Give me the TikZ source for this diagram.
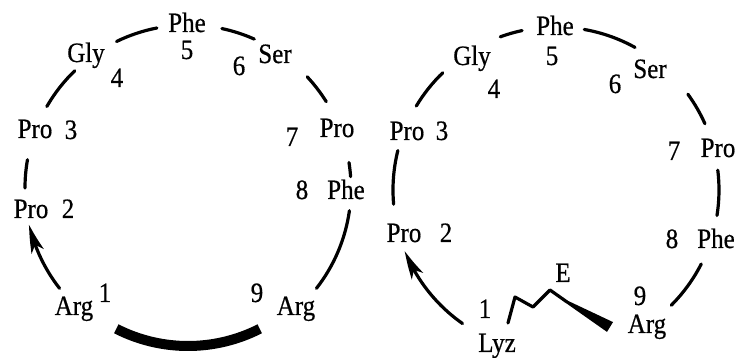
\documentclass[tikz,border=0pt]{standalone}
\usepackage{fontspec}
\setmainfont{Liberation Serif}
\newfontfamily\lblfont[UprightFeatures={FakeBold=0.6}]{Liberation Serif}
\usetikzlibrary{arrows.meta,calc,bending}
\newcommand{\tall}[1]{\scalebox{1}[1.12]{#1}}
\begin{document}
\begin{tikzpicture}[x=1pt,y=-1pt,
  lbl/.style={font=\lblfont\fontsize{25}{25}\selectfont,inner sep=0pt,anchor=base},
  seg/.style={line width=3.2pt,line cap=round},
  bond/.style={line width=10pt},
  tip/.style={-{Stealth[length=28pt,width=13pt,inset=7pt,bend]}}]
\useasboundingbox (0,0) rectangle (737,358);
\coordinate (L) at (188,188);
\coordinate (R) at (556,190);
% ---------- left ring labels
\node[lbl] (lphe5) at (187,32) {\tall{Phe}};
\node[lbl] (ln5) at (187,59) {\tall{5}};
\node[lbl] (lgly) at (86,62) {\tall{Gly}};
\node[lbl] (ln4) at (117,87) {\tall{4}};
\node[lbl] (lser) at (275,63) {\tall{Ser}};
\node[lbl] (ln6) at (239,75) {\tall{6}};
\node[lbl] (lpro3) at (35,138) {\tall{Pro}};
\node[lbl] (ln3) at (71,139) {\tall{3}};
\node[lbl] (lpro7) at (337,137) {\tall{Pro}};
\node[lbl] (ln7) at (292,146) {\tall{7}};
\node[lbl] (lpro2) at (31,218) {\tall{Pro}};
\node[lbl] (ln2) at (68,218) {\tall{2}};
\node[lbl] (ln8) at (302,199) {\tall{8}};
\node[lbl] (lphe8) at (346,199) {\tall{Phe}};
\node[lbl] (larg1) at (74,315) {\tall{Arg}};
\node[lbl] (ln1) at (105,302) {\tall{1}};
\node[lbl] (ln9) at (257,302) {\tall{9}};
\node[lbl] (larg9) at (296,315) {\tall{Arg}};
% ---------- left ring bonds
\draw[seg] ($(L)+(-116:163)$) coordinate (la1) arc[start angle=-116,end angle=-101,radius=163];
\draw[seg] ($(L)+(-78:163)$) coordinate (la2) arc[start angle=-78,end angle=-66,radius=163];
\draw[seg] ($(L)+(-150:163)$) coordinate (la3) arc[start angle=-150,end angle=-134,radius=163];
\draw[seg] ($(L)+(-43:163)$) coordinate (la4) arc[start angle=-43,end angle=-32,radius=163];
\draw[seg] ($(L)+(-180:163)$) coordinate (la5) arc[start angle=-180,end angle=-170,radius=163];
\draw[seg] ($(L)+(-9:163)$) coordinate (la6) arc[start angle=-9,end angle=-4,radius=163];
\draw[seg] ($(L)+(8:163)$) coordinate (la7) arc[start angle=8,end angle=38,radius=163];
\draw[seg,tip] ($(L)+(142:163)$) coordinate (la8) arc[start angle=142,end angle=167,radius=163];
\draw[bond] ($(L)+(117:158)$) coordinate (la9) arc[start angle=117,end angle=63,radius=158];
% ---------- right ring labels
\node[lbl] (rphe5) at (555,35) {\tall{Phe}};
\node[lbl] (rn5) at (552,65) {\tall{5}};
\node[lbl] (rgly) at (472,65) {\tall{Gly}};
\node[lbl] (rn4) at (494,98) {\tall{4}};
\node[lbl] (rser) at (650,78) {\tall{Ser}};
\node[lbl] (rn6) at (615,93) {\tall{6}};
\node[lbl] (rpro3) at (407,140) {\tall{Pro}};
\node[lbl] (rn3) at (442,140) {\tall{3}};
\node[lbl] (rn7) at (674,160) {\tall{7}};
\node[lbl] (rpro7) at (718,157) {\tall{Pro}};
\node[lbl] (rpro2) at (404,242) {\tall{Pro}};
\node[lbl] (rn2) at (446,242) {\tall{2}};
\node[lbl] (rn8) at (672,248) {\tall{8}};
\node[lbl] (rphe8) at (716,248) {\tall{Phe}};
\node[lbl] (rE) at (563,282) {\tall{E}};
\node[lbl] (rn9) at (640,305) {\tall{9}};
\node[lbl] (rn1) at (485,318) {\tall{1}};
\node[lbl] (rarg) at (647,333) {\tall{Arg}};
\node[lbl] (rlyz) at (497,352) {\tall{Lyz}};
% ---------- right ring bonds
\draw[seg] ($(R)+(-110:163)$) coordinate (ra1) arc[start angle=-110,end angle=-102,radius=163];
\draw[seg] ($(R)+(-80:163)$) coordinate (ra2) arc[start angle=-80,end angle=-61,radius=163];
\draw[seg] ($(R)+(-149:163)$) coordinate (ra3) arc[start angle=-149,end angle=-134,radius=163];
\draw[seg] ($(R)+(-36:163)$) coordinate (ra4) arc[start angle=-36,end angle=-24,radius=163];
\draw[seg] ($(R)+(175:163)$) coordinate (ra5) arc[start angle=175,end angle=194,radius=163];
\draw[seg] ($(R)+(-7:163)$) coordinate (ra6) arc[start angle=-7,end angle=9,radius=163];
\draw[seg] ($(R)+(27:163)$) coordinate (ra7) arc[start angle=27,end angle=45,radius=163];
\draw[seg,tip] ($(R)+(125:163)$) coordinate (ra8) arc[start angle=125,end angle=158,radius=163];
% ---------- zigzag link Lyz -- Arg
\coordinate (z0) at (508,323);
\coordinate (z1) at (515,297);
\coordinate (z2) at (533,307);
\coordinate (z3) at (550,290);
\coordinate (z4) at (567,302);
\draw[seg,line join=round] (z0) -- (z1) -- (z2) -- (z3) -- (z4);
\fill (566.3,303.3) -- (607.0,331.9) -- (613.0,322.1) -- (567.7,300.7) -- cycle;
\end{tikzpicture}
\end{document}
